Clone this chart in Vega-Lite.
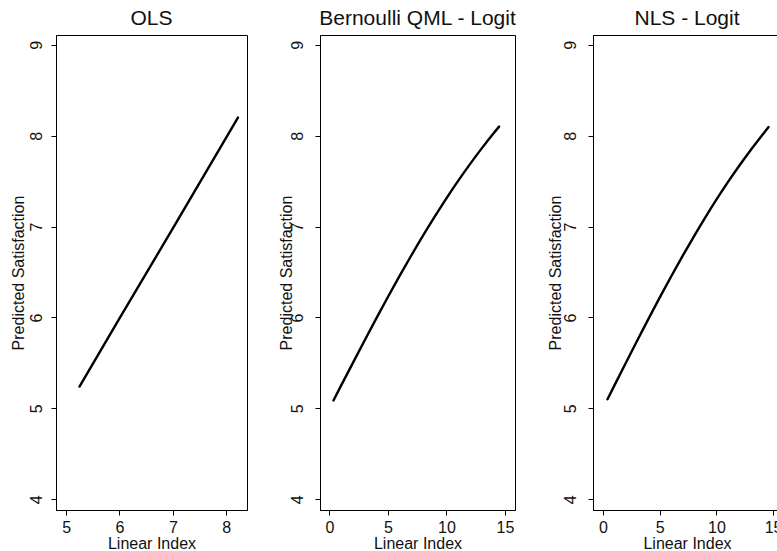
{
  "$schema": "https://vega.github.io/schema/vega-lite/v6.json",
  "padding": {"left": 9, "top": 7, "right": 0, "bottom": 0},
  "background": "white",
  "config": {
    "font": "Liberation Sans",
    "view": {"stroke": "black", "strokeWidth": 1},
    "axis": {"grid": false, "domainColor": "black", "tickColor": "black", "labelColor": "#111", "titleColor": "#111", "labelFont": "Liberation Sans", "titleFont": "Liberation Sans", "labelFontSize": 16, "titleFontSize": 16, "titleFontWeight": "normal", "tickSize": 5, "domainWidth": 1, "tickWidth": 1, "labelFlush": false, "labelOverlap": false},
    "title": {"fontSize": 21, "fontWeight": "normal", "font": "Liberation Sans", "color": "#111", "offset": 6, "anchor": "middle"}
  },
  "datasets": {
    "ols": [
      {"x": 5.25, "y": 5.24}, {"x": 6.0, "y": 5.99}, {"x": 7.0, "y": 6.98}, {"x": 8.0, "y": 7.98}, {"x": 8.22, "y": 8.2}
    ],
    "qml": [
      {"x": 0.35, "y": 5.087}, {"x": 1, "y": 5.25}, {"x": 2, "y": 5.498}, {"x": 3, "y": 5.744}, {"x": 4, "y": 5.987},
      {"x": 5, "y": 6.225}, {"x": 6, "y": 6.457}, {"x": 7, "y": 6.682}, {"x": 8, "y": 6.9}, {"x": 9, "y": 7.109},
      {"x": 10, "y": 7.311}, {"x": 11, "y": 7.503}, {"x": 12, "y": 7.685}, {"x": 13, "y": 7.858}, {"x": 14, "y": 8.022}, {"x": 14.5, "y": 8.1}
    ],
    "nls": [
      {"x": 0.4, "y": 5.1}, {"x": 1, "y": 5.25}, {"x": 2, "y": 5.497}, {"x": 3, "y": 5.741}, {"x": 4, "y": 5.982},
      {"x": 5, "y": 6.218}, {"x": 6, "y": 6.448}, {"x": 7, "y": 6.672}, {"x": 8, "y": 6.888}, {"x": 9, "y": 7.096},
      {"x": 10, "y": 7.296}, {"x": 11, "y": 7.486}, {"x": 12, "y": 7.667}, {"x": 13, "y": 7.838}, {"x": 14, "y": 8.0}, {"x": 14.6, "y": 8.095}
    ]
  },
  "spacing": 73,
  "bounds": "flush",
  "hconcat": [
    {
      "title": "OLS",
      "width": 191, "height": 475,
      "data": {"name": "ols"},
      "mark": {"type": "line", "color": "black", "strokeWidth": 2.4, "strokeCap": "round"},
      "encoding": {
        "x": {"field": "x", "type": "quantitative", "scale": {"domain": [4.81, 8.39], "nice": false, "zero": false},
              "axis": {"values": [5, 6, 7, 8], "title": "Linear Index", "labelPadding": 4, "titlePadding": 0}},
        "y": {"field": "y", "type": "quantitative", "scale": {"domain": [3.882, 9.108], "nice": false, "zero": false},
              "axis": {"values": [4, 5, 6, 7, 8, 9], "title": "Predicted Satisfaction", "labelAngle": -90, "labelPadding": 7, "titlePadding": 2}}
      }
    },
    {
      "spacing": 78,
      "bounds": "flush",
      "hconcat": [
        {
          "title": "Bernoulli QML - Logit",
          "width": 195, "height": 475,
          "data": {"name": "qml"},
          "mark": {"type": "line", "color": "black", "strokeWidth": 2.4, "strokeCap": "round", "interpolate": "monotone"},
          "encoding": {
            "x": {"field": "x", "type": "quantitative", "scale": {"domain": [-0.8, 15.86], "nice": false, "zero": false},
                  "axis": {"values": [0, 5, 10, 15], "title": "Linear Index", "labelPadding": 4, "titlePadding": 0}},
            "y": {"field": "y", "type": "quantitative", "scale": {"domain": [3.882, 9.108], "nice": false, "zero": false},
                  "axis": {"values": [4, 5, 6, 7, 8, 9], "title": "Predicted Satisfaction", "labelAngle": -90, "labelPadding": 10, "titlePadding": -5.5}}
          }
        },
        {
          "title": "NLS - Logit",
          "width": 188, "height": 475,
          "data": {"name": "nls"},
          "mark": {"type": "line", "color": "black", "strokeWidth": 2.4, "strokeCap": "round", "interpolate": "monotone"},
          "encoding": {
            "x": {"field": "x", "type": "quantitative", "scale": {"domain": [-0.88, 15.7], "nice": false, "zero": false},
                  "axis": {"values": [0, 5, 10, 15], "title": "Linear Index", "labelPadding": 4, "titlePadding": 0}},
            "y": {"field": "y", "type": "quantitative", "scale": {"domain": [3.882, 9.108], "nice": false, "zero": false},
                  "axis": {"values": [4, 5, 6, 7, 8, 9], "title": "Predicted Satisfaction", "labelAngle": -90, "labelPadding": 10, "titlePadding": -1}}
          }
        }
      ]
    }
  ]
}
